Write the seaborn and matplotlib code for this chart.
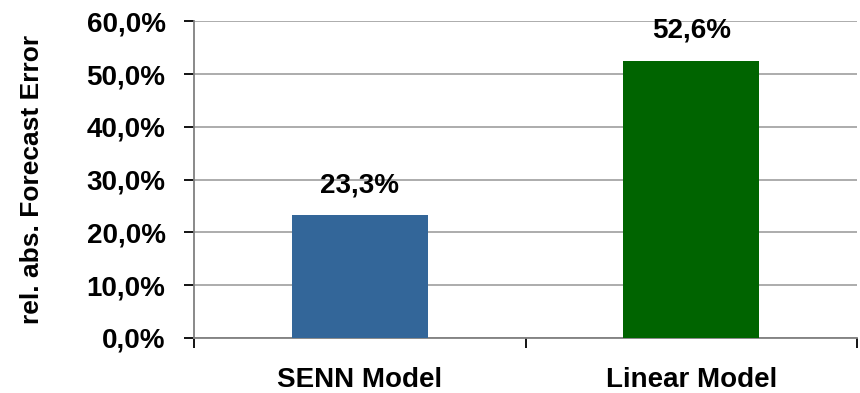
import matplotlib
matplotlib.use("Agg")
import matplotlib.pyplot as plt
import seaborn as sns
import pandas as pd
from matplotlib.ticker import FixedLocator, FuncFormatter

models = ["SENN Model", "Linear Model"]
errors = [0.233, 0.526]
bar_colors = ["#336699", "#006400"]
y_ticks = [0.0, 0.1, 0.2, 0.3, 0.4, 0.5, 0.6]

sns.set_theme(style="white")
plt.rcParams["font.family"] = ["Liberation Sans", "DejaVu Sans"]
plt.rcParams["font.weight"] = "bold"
plt.rcParams["text.color"] = "black"
plt.rcParams["xtick.color"] = "black"
plt.rcParams["ytick.color"] = "black"
plt.rcParams["axes.labelcolor"] = "black"

df = pd.DataFrame({"model": models, "error": errors})

fig = plt.figure(figsize=(8.6, 3.93), dpi=100)
ax = fig.add_axes([0.2256, 0.14, 0.7709, 0.8053])

sns.barplot(data=df, x="model", y="error", hue="model", palette=bar_colors,
            saturation=1, width=0.41, legend=False, ax=ax, zorder=3,
            linewidth=0)

ax.set_xlim(-0.5, 1.5)
ax.set_ylim(0, 0.6)
ax.yaxis.set_major_locator(FixedLocator(y_ticks))
ax.yaxis.set_major_formatter(FuncFormatter(lambda v, _: f"{v*100:.1f}%".replace(".", ",")))

ax.grid(axis="y", color="#a6a6a6", linewidth=1.3, zorder=0)
ax.grid(axis="x", visible=False)

for side in ["top", "right"]:
    ax.spines[side].set_visible(False)
ax.spines["left"].set_color("#808080")
ax.spines["left"].set_linewidth(1.3)
ax.spines["bottom"].set_color("#808080")
ax.spines["bottom"].set_linewidth(1.3)

ax.tick_params(axis="y", which="major", direction="out", length=7.5, width=1.3,
               color="black", labelcolor="black", pad=13, labelsize=20, left=True)
ax.tick_params(axis="x", which="major", length=0, pad=21, labelsize=20,
               labelcolor="black")
ax.xaxis.set_minor_locator(FixedLocator([-0.5, 0.5, 1.5]))
ax.tick_params(axis="x", which="minor", direction="out", length=7, width=1.3,
               color="black", bottom=True)
for lbl in ax.get_xticklabels() + ax.get_yticklabels():
    lbl.set_fontweight("bold")

ax.set_xlabel("")
ax.set_ylabel("rel. abs. Forecast Error", fontsize=19, fontweight="bold",
              color="black")
ax.yaxis.set_label_coords(-0.226, 0.5)

for i, v in enumerate(errors):
    ax.annotate(f"{v*100:.1f}%".replace(".", ","), xy=(i, v), xytext=(0, 12),
                textcoords="offset points", ha="center", va="bottom",
                fontsize=20, fontweight="bold", color="black")

fig.savefig("out.png", dpi=100)
